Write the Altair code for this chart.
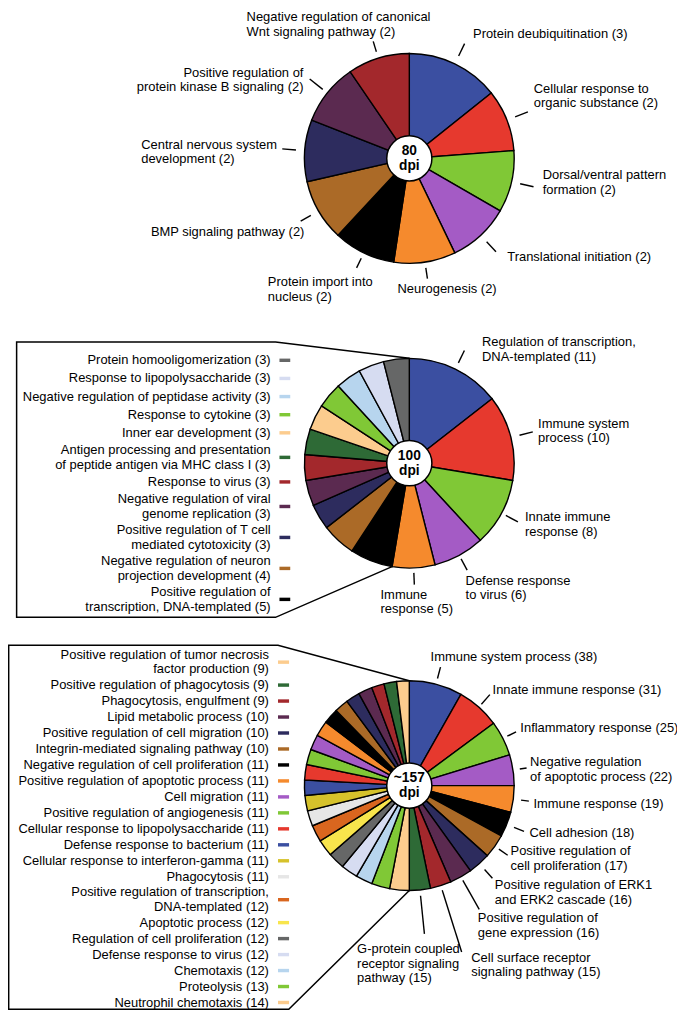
import math
import altair as alt
import pandas as pd

# ----------------------------- data -----------------------------
# slices listed clockwise from 12 o'clock
terms_80 = [
    "Protein deubiquitination",
    "Cellular response to\norganic substance",
    "Dorsal/ventral pattern\nformation",
    "Translational initiation",
    "Neurogenesis",
    "Protein import into\nnucleus",
    "BMP signaling pathway",
    "Central nervous system\ndevelopment",
    "Positive regulation of\nprotein kinase B signaling",
    "Negative regulation of canonical\nWnt signaling pathway",
]
counts_80 = [3, 2, 2, 2, 2, 2, 2, 2, 2, 2]

terms_100 = [
    "Regulation of transcription,\nDNA-templated",
    "Immune system\nprocess",
    "Innate immune\nresponse",
    "Defense response\nto virus",
    "Immune\nresponse",
    "Positive regulation of\ntranscription, DNA-templated",
    "Negative regulation of neuron\nprojection development",
    "Positive regulation of T cell\nmediated cytotoxicity",
    "Negative regulation of viral\ngenome replication",
    "Response to virus",
    "Antigen processing and presentation\nof peptide antigen via MHC class I",
    "Inner ear development",
    "Response to cytokine",
    "Negative regulation of peptidase activity",
    "Response to lipopolysaccharide",
    "Protein homooligomerization",
]
counts_100 = [11, 10, 8, 6, 5, 5, 4, 3, 3, 3, 3, 3, 3, 3, 3, 3]

terms_157 = [
    "Immune system process",
    "Innate immune response",
    "Inflammatory response",
    "Negative regulation\nof apoptotic process",
    "Immune response",
    "Cell adhesion",
    "Positive regulation of\ncell proliferation",
    "Positive regulation of ERK1\nand ERK2 cascade",
    "Positive regulation of\ngene expression",
    "Cell surface receptor\nsignaling pathway",
    "G-protein coupled\nreceptor signaling\npathway",
    "Neutrophil chemotaxis",
    "Proteolysis",
    "Chemotaxis",
    "Defense response to virus",
    "Regulation of cell proliferation",
    "Apoptotic process",
    "Positive regulation of transcription,\nDNA-templated",
    "Phagocytosis",
    "Cellular response to interferon-gamma",
    "Defense response to bacterium",
    "Cellular response to lipopolysaccharide",
    "Positive regulation of angiogenesis",
    "Cell migration",
    "Positive regulation of apoptotic process",
    "Negative regulation of cell proliferation",
    "Integrin-mediated signaling pathway",
    "Positive regulation of cell migration",
    "Lipid metabolic process",
    "Phagocytosis, engulfment",
    "Positive regulation of phagocytosis",
    "Positive regulation of tumor necrosis\nfactor production",
]
counts_157 = [38, 31, 25, 22, 19, 18, 17, 16, 16, 15, 15,
              14, 13, 12, 12, 12, 12, 12, 11, 11, 11, 11, 11, 11, 11, 11,
              10, 10, 10, 9, 9, 9]

center_titles = ["80\ndpi", "100\ndpi", "~157\ndpi"]

# ----------------------------- style / layout -----------------------------
PALETTE = ["#3b4fa1", "#e6392e", "#80c836", "#a45bc5", "#f58a2d", "#000000",
           "#ab6a27", "#2d2c5e", "#5b2a50", "#a3282c", "#2e6a36", "#fccc8e",
           "#80c836", "#b7d5ee", "#d6dcf1", "#666767", "#f8e54c", "#d9661f",
           "#e6e6e6", "#d6c22b"]
FONT = "Liberation Sans"
S = 0.98                 # uniform scale of the reference layout
W, H = 669, 1005
X0, Y0 = 0.5, -3.5
R, R_IN = 107, 26
FS = 13.2 * S
LH_REF = 15.0            # line height in layout units
LH = LH_REF * S

PANELS = [
    dict(terms=terms_80, counts=counts_80, title=center_titles[0], center=(410, 150),
         callouts=[(116, 130, 8.6, -9.9, "left"), (116, 130, 6, -16.1, "left"),
                   (116, 130, 9.3, -4.5, "left"), (116, 130, 11.5, 4.8, "left"),
                   (113, 124, -30.5, 10.4, "left"), (113, 124, -90.6, 21.8, "left"),
                   (116, 128, 3.8, 11, "right"), (116, 130, -143.9, 3.2, "left"),
                   (113, 130, -6.4, 1.1, "right"), (114, 125, -129.2, -17.5, "left")],
         legend=None),
    dict(terms=terms_100, counts=counts_100, title=center_titles[1], center=(410, 461),
         callouts=[(114, 128, 18, -1.2, "left"), (116, 130, 5.4, -0.8, "left"),
                   (112, 126, 7.2, 2.6, "left"), (111, 124, -1.6, 18.4, "left"),
                   (112, 124, -34.5, 17.6, "left")],
         legend=dict(text_x=268.5, sw=(277.5, 288.5), y0=356, base=5.4, per_line=13.1,
                     left=9.3, top=337.2, bottom=618.3, ctop=273.5, cbot=273.5)),
    dict(terms=terms_157, counts=counts_157, title=center_titles[2], center=(410, 790),
         callouts=[(113, 125, -10.1, -10.8, "left"), (111, 124, 2.8, -4.5, "left"),
                   (112, 122, 4.4, -3.4, "left"), (114, 121, 3.6, 1.2, "left"),
                   (115, 123, 4.7, 2.5, "left"), (115, 126, 5.6, 1.7, "left"),
                   (112, 123, 2.9, 3.1, "left"), (115, 127, 2.5, 14.7, "left"),
                   (111, 145, -1.4, 16.3, "left"), (112, 178, 9.8, 13.2, "left"),
                   (113, 152, -68.7, 30.5, "left")],
         legend=dict(text_x=266.7, sw=(276, 287.3), y0=664, base=2.1, per_line=14.2,
                     left=1.2, top=646.7, bottom=1018.3, ctop=276, cbot=287)),
]

xs = alt.Scale(domain=[X0, X0 + W / S], range=[0, W], nice=False, zero=False)
ys = alt.Scale(domain=[Y0, Y0 + H / S], range=[0, H], nice=False, zero=False)


def X(f):
    return alt.X(f, type="quantitative", scale=xs, axis=None)


def Y(f):
    return alt.Y(f, type="quantitative", scale=ys, axis=None)


def first_line_y(center_y, text):
    """Vega anchors multi-line text at its first line: shift so the block is centred."""
    return center_y - (text.count("\n")) * LH_REF / 2


arc_layers = []
ticks, labels, legend_rows, box_rows, centers = [], [], [], [], []

for p, panel in enumerate(PANELS):
    cx, cy = panel["center"]
    terms, counts = panel["terms"], panel["counts"]
    n = len(counts)
    df = pd.DataFrame(dict(idx=list(range(n)), value=counts, term=terms,
                           color=[PALETTE[i % len(PALETTE)] for i in range(n)],
                           cx=cx, cy=cy))
    df["start"] = df["value"].cumsum() - df["value"]
    total = df["value"].sum()
    df["mid"] = 2 * math.pi * (df["start"] + df["value"] / 2) / total

    arc_layers.append(
        alt.Chart(df).mark_arc(outerRadius=R * S, stroke="black", strokeWidth=1.4)
        .encode(theta=alt.Theta("value:Q", stack=True),
                order=alt.Order("idx:Q"),
                color=alt.Color("color:N", scale=None),
                x=X("cx"), y=Y("cy"))
    )
    centers.append(dict(cx=cx, cy=cy, ty=first_line_y(cy, panel["title"]),
                        title=panel["title"]))

    nc = len(panel["callouts"])
    for i in range(nc):
        r1, r2, dx, dy, align = panel["callouts"][i]
        a = df.loc[i, "mid"]
        x1, y1 = cx + r1 * math.sin(a), cy - r1 * math.cos(a)
        x2, y2 = cx + r2 * math.sin(a), cy - r2 * math.cos(a)
        ticks.append(dict(x=x1, y=y1, x2=x2, y2=y2))
        txt = f"{terms[i]} ({counts[i]})"
        labels.append(dict(x=x2 + dx, y=first_line_y(y2 + dy, txt), align=align, text=txt))

    lg = panel["legend"]
    if lg:
        y = lg["y0"]
        prev_h = None
        for k, i in enumerate(range(n - 1, nc - 1, -1)):
            lines = terms[i].count("\n") + 1
            h = lg["base"] + lg["per_line"] * lines
            if prev_h is not None:
                y += (prev_h + h) / 2
            prev_h = h
            txt = f"{terms[i]} ({counts[i]})"
            legend_rows.append(dict(x=lg["text_x"], y=y, ty=first_line_y(y, txt), text=txt,
                                    sx1=lg["sw"][0], sx2=lg["sw"][1],
                                    color=df.loc[i, "color"]))
        a0 = 2 * math.pi * df.loc[nc, "start"] / total
        pts = [(cx, cy - R), (lg["ctop"], lg["top"]), (lg["left"], lg["top"]),
               (lg["left"], lg["bottom"]), (lg["cbot"], lg["bottom"]),
               (cx + R * math.sin(a0), cy - R * math.cos(a0))]
        for k, (bx, by) in enumerate(pts):
            box_rows.append(dict(box=p, k=k, x=bx, y=by))

box = alt.Chart(pd.DataFrame(box_rows)).mark_line(
    color="black", strokeWidth=1.5, strokeJoin="miter").encode(
    x=X("x"), y=Y("y"), order=alt.Order("k:Q"), detail="box:N")

cdf = pd.DataFrame(centers)
circles = alt.Chart(cdf).mark_point(
    shape="circle", filled=True, fill="white", stroke="black", strokeWidth=1.5,
    opacity=1, size=math.pi * (R_IN * S) ** 2).encode(x=X("cx"), y=Y("cy"))
ctext = alt.Chart(cdf).mark_text(
    font=FONT, fontSize=14 * S, fontWeight="bold", lineBreak="\n", lineHeight=LH,
    align="center", baseline="middle", color="black").encode(
    x=X("cx"), y=Y("ty"), text="title:N")

tick_layer = alt.Chart(pd.DataFrame(ticks)).mark_rule(
    color="black", strokeWidth=1.4).encode(x=X("x"), y=Y("y"), x2="x2:Q", y2="y2:Q")

ldf = pd.DataFrame(labels)
label_layers = []
for al in ["left", "right"]:
    sub = ldf[ldf["align"] == al]
    if len(sub):
        label_layers.append(
            alt.Chart(sub).mark_text(font=FONT, fontSize=FS, lineBreak="\n", lineHeight=LH,
                                     align=al, baseline="middle", color="black")
            .encode(x=X("x"), y=Y("y"), text="text:N"))

gdf = pd.DataFrame(legend_rows)
legend_text = alt.Chart(gdf).mark_text(
    font=FONT, fontSize=FS, lineBreak="\n", lineHeight=LH, align="right",
    baseline="middle", color="black").encode(x=X("x"), y=Y("ty"), text="text:N")
legend_sw = alt.Chart(gdf).mark_rule(strokeWidth=3.5 * S).encode(
    x=X("sx1"), x2="sx2:Q", y=Y("y"), color=alt.Color("color:N", scale=None))

chart = alt.layer(
    box, *arc_layers, circles, ctext, tick_layer, *label_layers, legend_text, legend_sw
).resolve_scale(theta="independent").properties(
    width=W, height=H, padding=0, autosize=alt.AutoSizeParams(type="none")
).configure_view(stroke=None)

chart.save("out.html", embed_options={"renderer": "svg", "actions": False})
